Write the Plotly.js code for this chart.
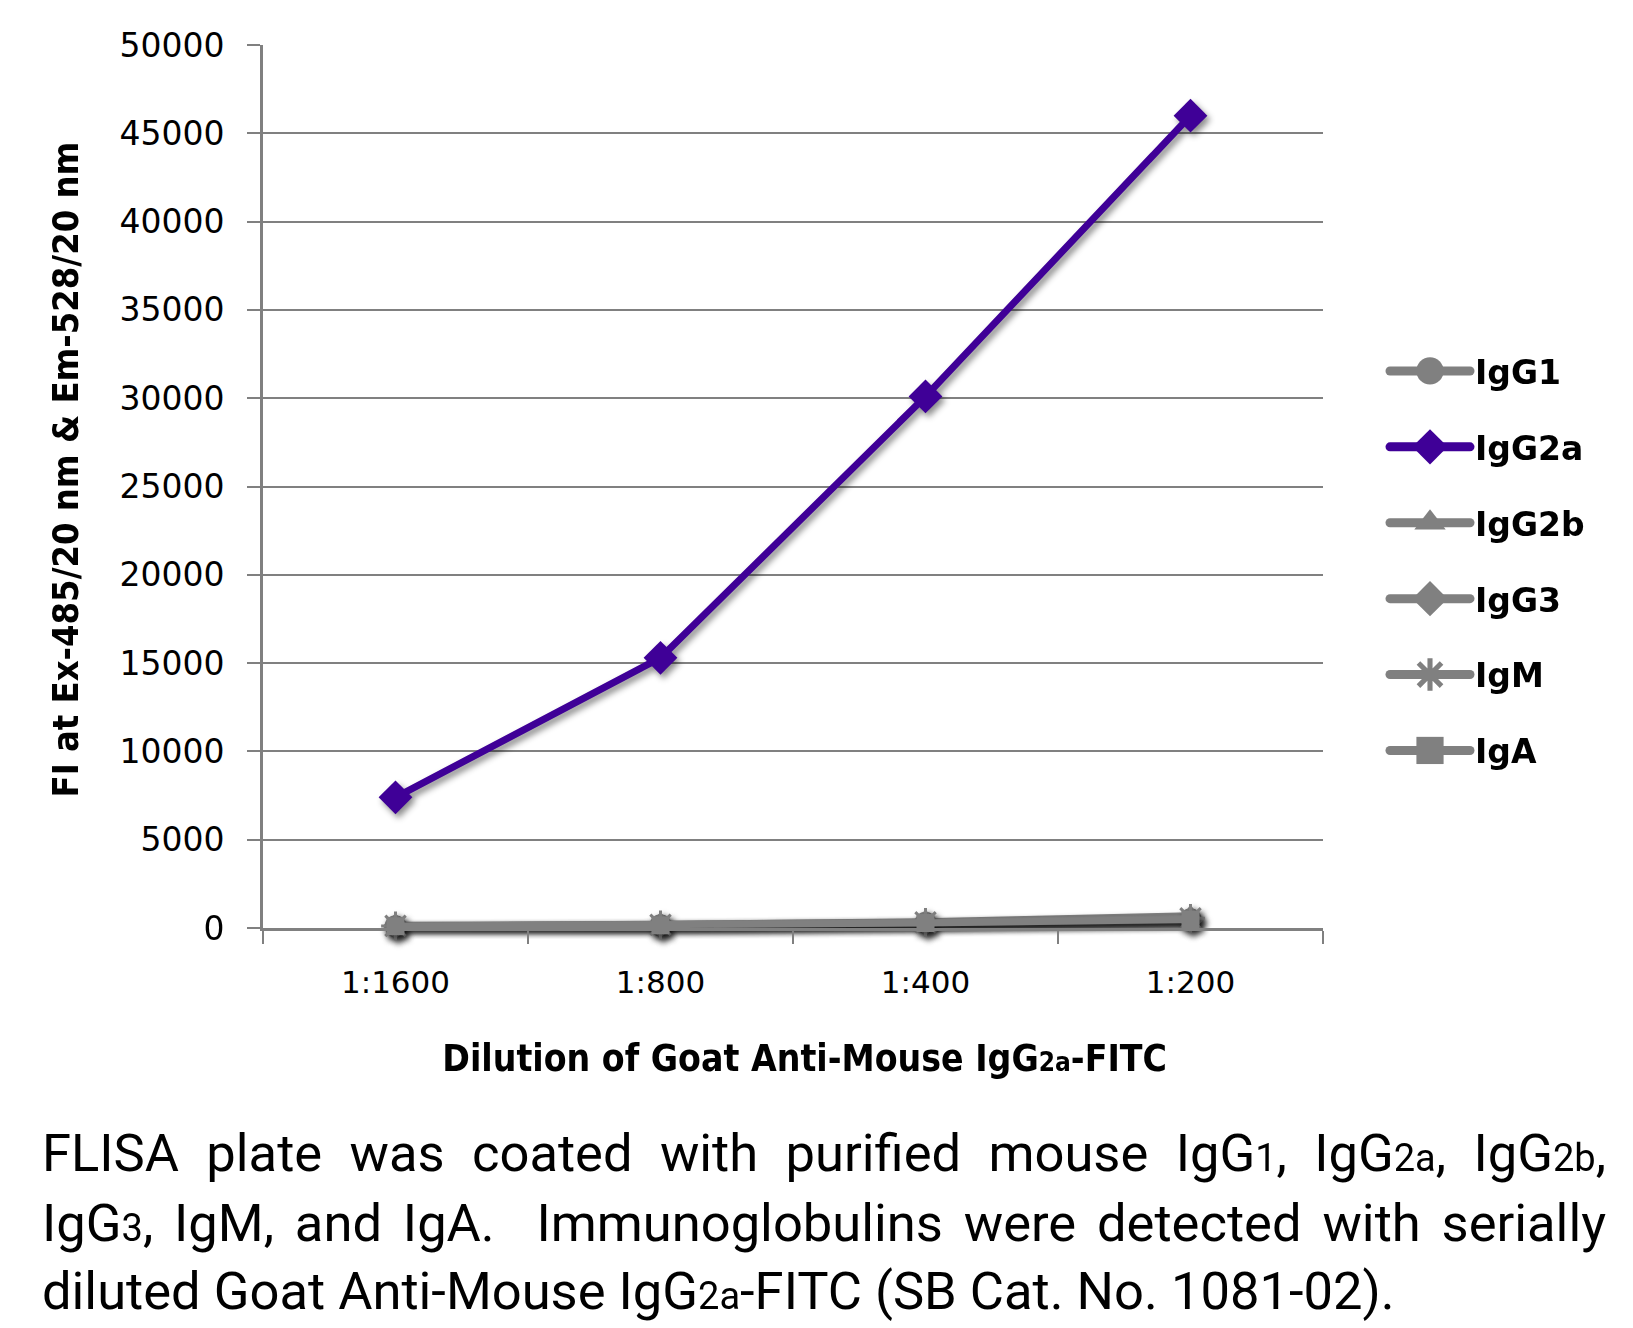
<!DOCTYPE html>
<html>
<head>
<meta charset="utf-8">
<script src="https://cdn.plot.ly/plotly-3.0.1.min.js"></script>
<style>
  html, body { margin: 0; padding: 0; background: #ffffff; }
  #chart { width: 1633px; height: 1328px; }
  #chart .scatterlayer .trace { filter: drop-shadow(3px 4px 3px rgba(0,0,0,0.45)); }
</style>
</head>
<body>
<div id="chart"></div>
<script>
// ---- Data ----
const dilutions = ["1:1600", "1:800", "1:400", "1:200"];

const igG1  = [100, 150, 300, 500];
const igG2a = [7400, 15300, 30100, 46000];
const igG2b = [150, 200, 350, 700];
const igG3  = [100, 150, 300, 450];
const igM   = [120, 180, 320, 550];
const igA   = [100, 150, 280, 480];

const seriesNames = ["IgG1", "IgG2a", "IgG2b", "IgG3", "IgM", "IgA"];

const yTickVals = [0, 5000, 10000, 15000, 20000, 25000, 30000, 35000, 40000, 45000, 50000];

// leading zero-width char keeps the non-breaking padding from being trimmed (used to offset the centred titles)
const xTitleText = "\u200b\u00a0\u00a0Dilution of Goat Anti-Mouse IgG<span style='font-size:26px'>2a</span>-FITC";
const yTitleText = "\u200b\u00a0\u00a0\u00a0FI at Ex-485/20 nm &amp; Em-528/20 nm";
const captionLines = [
  "FLISA plate was coated with purified mouse IgG<span style='font-size:38px'>1</span>, IgG<span style='font-size:38px'>2a</span>, IgG<span style='font-size:38px'>2b</span>,",
  "IgG<span style='font-size:38px'>3</span>, IgM, and IgA.  Immunoglobulins were detected with serially",
  "diluted Goat Anti-Mouse IgG<span style='font-size:38px'>2a</span>-FITC (SB Cat. No. 1081-02)."
];

// ---- Styles ----
const GRAY = "#808080";
const PURPLE = "#3f0097";

function mk(name, y, color, width, symbol, size, extra) {
  const t = {
    type: "scatter",
    mode: "lines+markers",
    name: name,
    legendgroup: name,
    x: dilutions,
    y: y,
    line: { color: color, width: width },
    marker: { color: color, symbol: symbol, size: size, line: { width: 0, color: color } },
    cliponaxis: false
  };
  if (extra) Object.assign(t.marker, extra);
  return t;
}

const data = [
  mk(seriesNames[0], igG1, GRAY, 7, "circle", 22),
  mk(seriesNames[2], igG2b, GRAY, 7, "triangle-up", 22),
  mk(seriesNames[3], igG3, GRAY, 7, "diamond", 20),
  mk(seriesNames[4], igM, GRAY, 7, "asterisk-open", 24, { line: { width: 3, color: GRAY } }),
  mk(seriesNames[5], igA, GRAY, 7, "square", 18),
  mk(seriesNames[1], igG2a, PURPLE, 7, "diamond", 26)
];
const legendRank = { IgG1: 1, IgG2a: 2, IgG2b: 3, IgG3: 4, IgM: 5, IgA: 6 };
data.forEach(t => { t.legendrank = legendRank[t.name]; });

const plotL = 263, plotR = 1323, plotT = 45, plotB = 928;
const W = 1633, H = 1328;
const pw = plotR - plotL, ph = plotB - plotT;
const px = v => (v - plotL) / pw;
const py = v => (plotB - v) / ph;

const annotations = captionLines.map((txt, i) => ({
  text: txt,
  xref: "paper", yref: "paper",
  x: px(40), y: py([1153, 1223, 1291][i]),
  xanchor: "left", yanchor: "middle", align: "left",
  showarrow: false,
  font: { family: "Roboto, 'Noto Sans', sans-serif", size: 52.5, color: "#000000" }
}));

const layout = {
  width: W, height: H,
  margin: { l: plotL, r: W - plotR, t: plotT, b: H - plotB, autoexpand: false },
  paper_bgcolor: "#ffffff",
  plot_bgcolor: "#ffffff",
  showlegend: true,
  legend: {
    xref: "container", yref: "container",
    x: 1385 / W, y: 1 - 561 / H,
    xanchor: "left", yanchor: "middle",
    traceorder: "grouped",
    tracegroupgap: 30,
    itemwidth: 80,
    font: { family: "'DejaVu Sans', sans-serif", size: 33, color: "#000000", weight: "bold" },
    bgcolor: "rgba(0,0,0,0)"
  },
  xaxis: {
    type: "category",
    range: [-0.5, 3.5],
    tickson: "boundaries",
    ticks: "outside", ticklen: 13, tickwidth: 2, tickcolor: GRAY,
    showline: true, linecolor: GRAY, linewidth: 3,
    showgrid: false, zeroline: false,
    tickfont: { family: "'DejaVu Sans', sans-serif", size: 31, color: "#000000" },
    ticklabelstandoff: 25,
    title: {
      text: xTitleText,
      font: { family: "'DejaVu Sans Condensed', 'DejaVu Sans', sans-serif", size: 37, color: "#000000", weight: "bold" },
      standoff: 46
    },
    fixedrange: true
  },
  yaxis: {
    range: [0, 50000],
    tickvals: yTickVals,
    ticktext: yTickVals.map(String),
    ticks: "outside", ticklen: 13, tickwidth: 2, tickcolor: GRAY,
    showline: true, linecolor: GRAY, linewidth: 3,
    showgrid: true, gridcolor: GRAY, gridwidth: 2,
    zeroline: false,
    tickfont: { family: "'DejaVu Sans', sans-serif", size: 33, color: "#000000" },
    ticklabelstandoff: 16,
    title: {
      text: yTitleText,
      font: { family: "'DejaVu Sans Condensed', 'DejaVu Sans', sans-serif", size: 36, color: "#000000", weight: "bold" },
      standoff: 30
    },
    fixedrange: true
  },
  annotations: annotations
};

Plotly.newPlot("chart", data, layout, { staticPlot: true, displayModeBar: false }).then(gd => {
  // justify the first two caption lines to the full text width, like the reference
  const targets = [1604 - 40, 1604 - 40, null];
  gd.querySelectorAll(".annotation-text").forEach((el, i) => {
    const target = targets[i];
    if (!target) return;
    const w = el.getComputedTextLength();
    const spaces = (el.textContent.match(/ /g) || []).length;
    if (spaces > 0 && w < target) el.style.wordSpacing = ((target - w) / spaces) + "px";
  });
  // larger legend symbols and thicker rounded legend lines, as in the reference
  gd.querySelectorAll(".legend .legendpoints path.scatterpts").forEach(p => {
    p.setAttribute("transform", (p.getAttribute("transform") || "") + " scale(1.7)");
  });
  gd.querySelectorAll(".legend .legendlines path").forEach(p => {
    p.style.strokeWidth = "9px";
    p.style.strokeLinecap = "round";
  });
});
</script>
</body>
</html>
